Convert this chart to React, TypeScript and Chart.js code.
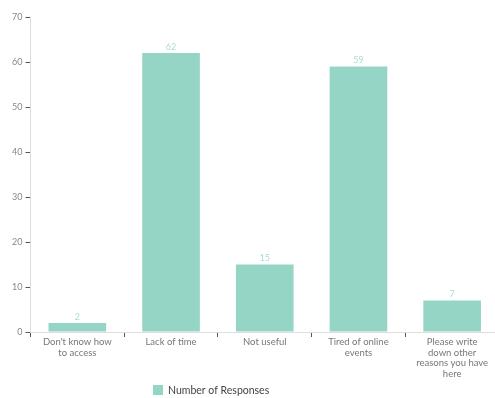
import React, { useEffect, useRef } from "react";
import { Chart, registerables } from "chart.js";

Chart.register(...registerables);

const categories: (string | string[])[] = [
  ["Don't know how", "to access"],
  "Lack of time",
  "Not useful",
  ["Tired of online", "events"],
  ["Please write", "down other", "reasons you have", "here"],
];
const responses = [2, 62, 15, 59, 7];
const seriesName = "Number of Responses";
const yTicks = [0, 10, 20, 30, 40, 50, 60, 70];

const BAR = "#95d5c5";
const FONT = "Lato, 'Open Sans', sans-serif";

const valueLabels = {
  id: "valueLabels",
  afterDatasetsDraw(chart: any) {
    const ctx = chart.ctx;
    const meta = chart.getDatasetMeta(0);
    ctx.save();
    ctx.fillStyle = "#a9ddd1";
    ctx.font = `9px ${FONT}`;
    ctx.textAlign = "center";
    ctx.textBaseline = "bottom";
    meta.data.forEach((el: any, i: number) => {
      ctx.fillText(String(responses[i]), el.x, el.y - 1.5);
    });
    ctx.restore();
  },
};

const bottomLegend = {
  id: "bottomLegend",
  afterDraw(chart: any) {
    const ctx = chart.ctx;
    ctx.save();
    ctx.fillStyle = BAR;
    ctx.fillRect(153, 385, 10, 10);
    ctx.fillStyle = "#444";
    ctx.font = `10.5px ${FONT}`;
    ctx.textAlign = "left";
    ctx.textBaseline = "middle";
    ctx.fillText(seriesName, 168, 390.5);
    ctx.restore();
  },
};

export default function App() {
  const ref = useRef<HTMLCanvasElement>(null);

  useEffect(() => {
    document.body.style.margin = "0";
    document.body.style.overflow = "hidden";
    const chart = new Chart(ref.current!, {
      type: "bar",
      data: {
        labels: categories,
        datasets: [
          {
            label: seriesName,
            data: responses,
            backgroundColor: BAR,
            categoryPercentage: 1,
            barPercentage: 0.615,
          },
        ],
      },
      options: {
        responsive: false,
        animation: false,
        layout: { padding: { top: 17, right: 0, bottom: 16, left: 0 } },
        plugins: { legend: { display: false }, tooltip: { enabled: false } },
        scales: {
          x: {
            clip: false,
            grid: {
              offset: true,
              drawOnChartArea: false,
              tickLength: 5,
              tickColor: "#555",
              tickWidth: 1,
            },
            border: { color: "#ddd", width: 1 },
            ticks: {
              color: "#777",
              font: { family: FONT, size: 9.5, lineHeight: 1.1 },
              padding: 0,
              maxRotation: 0,
              autoSkip: false,
            },
            afterFit(scale: any) {
              scale.height = 398 - 17 - 16 - 315;
            },
          },
          y: {
            min: 0,
            max: 70,
            afterBuildTicks(scale: any) {
              scale.ticks = yTicks.map((v) => ({ value: v }));
            },
            grid: {
              drawOnChartArea: false,
              tickLength: 5,
              tickColor: "#555",
            },
            border: { color: "#ddd", width: 1 },
            ticks: {
              color: "#888",
              font: { family: FONT, size: 9 },
              padding: 3,
            },
            afterFit(scale: any) {
              scale.width = 30.5;
            },
          },
        },
      },
      plugins: [valueLabels, bottomLegend],
    } as any);
    return () => chart.destroy();
  }, []);

  return (
    <div style={{ width: 495, height: 398, overflow: "hidden", position: "relative" }}>
      <canvas ref={ref} width={499} height={398} style={{ display: "block" }} />
    </div>
  );
}
